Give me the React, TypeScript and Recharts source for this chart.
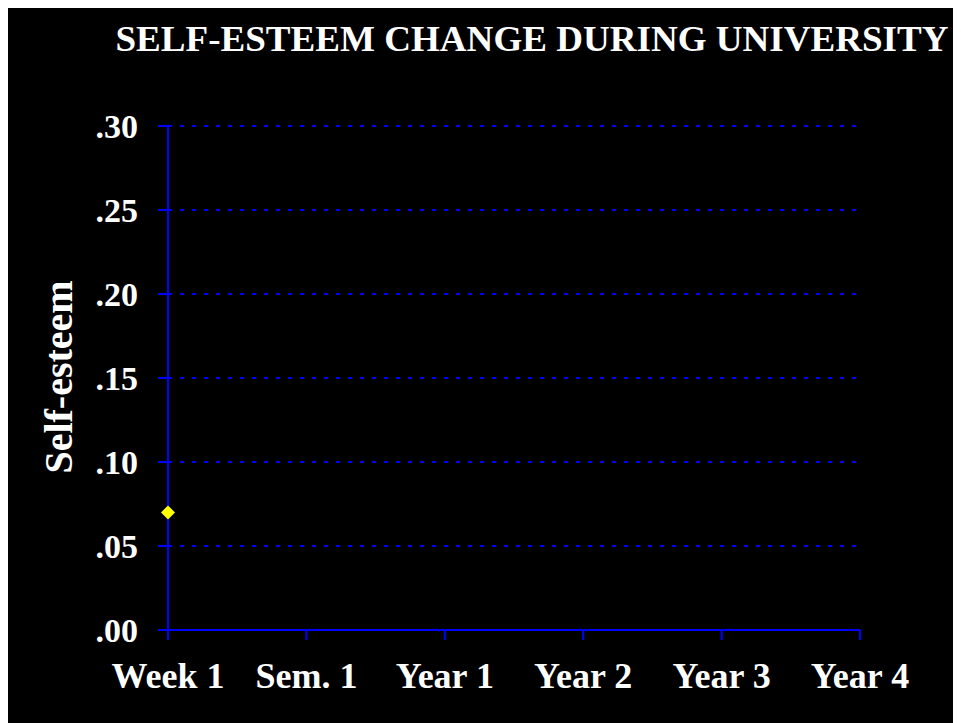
import React from 'react';
import { LineChart, Line, XAxis, YAxis, CartesianGrid } from 'recharts';

const categories = ['Week 1', 'Sem. 1', 'Year 1', 'Year 2', 'Year 3', 'Year 4'];
const selfEsteem: (number | null)[] = [0.07, null, null, null, null, null];
const yTicks = [0, 0.05, 0.1, 0.15, 0.2, 0.25, 0.3];

const data = categories.map((c, i) => ({ period: c, value: selfEsteem[i] }));

const FONT = '"Liberation Serif", "Times New Roman", serif';
const BLUE = '#0000ff';

const Diamond = (props: any) => {
  const { cx, cy, value, index } = props;
  if (value == null || cx == null || cy == null) return <g key={`d-${index}`} />;
  const r = 7;
  return (
    <polygon
      key={`d-${index}`}
      points={`${cx},${cy - r} ${cx + r},${cy} ${cx},${cy + r} ${cx - r},${cy}`}
      fill="#ffff00"
      stroke="none"
    />
  );
};

export default function App() {
  return (
    <div style={{ position: 'relative', width: 953, height: 715, background: '#000' }}>
      <LineChart width={953} height={715} data={data} margin={{ top: 118, right: 101, left: 30, bottom: 33 }}>
        <CartesianGrid vertical={false} stroke={BLUE} strokeWidth={2} strokeDasharray="4 8" />
        <XAxis
          dataKey="period"
          height={60}
          stroke={BLUE}
          strokeWidth={2}
          tickSize={10}
          tickMargin={22}
          tickLine={{ stroke: BLUE, strokeWidth: 2 }}
          axisLine={{ stroke: BLUE, strokeWidth: 2 }}
          tick={{ fill: '#fff', fontSize: 36, fontWeight: 'bold', fontFamily: FONT }}
          interval={0}
        />
        <YAxis
          width={130}
          domain={[0, 0.3]}
          ticks={yTicks}
          stroke={BLUE}
          tickSize={10}
          tickMargin={20}
          tickLine={{ stroke: BLUE, strokeWidth: 2 }}
          axisLine={{ stroke: BLUE, strokeWidth: 2 }}
          tick={{ fill: '#fff', fontSize: 34, fontWeight: 'bold', fontFamily: FONT }}
          tickFormatter={(v: number) => v.toFixed(2).replace(/^0/, '')}
        />
        <Line
          dataKey="value"
          stroke="none"
          dot={Diamond}
          activeDot={false}
          isAnimationActive={false}
          connectNulls={false}
        />
      </LineChart>
      <svg width={953} height={715} style={{ position: 'absolute', left: 0, top: 0, pointerEvents: 'none' }}>
        <text
          x={524}
          y={43}
          textAnchor="middle"
          fill="#fff"
          fontSize={35}
          fontWeight="bold"
          fontFamily={FONT}
          textLength={833}
          lengthAdjust="spacingAndGlyphs"
        >
          SELF-ESTEEM CHANGE DURING UNIVERSITY
        </text>
        <text
          x={64}
          y={369}
          transform="rotate(-90 64 369)"
          textAnchor="middle"
          fill="#fff"
          fontSize={40}
          fontWeight="bold"
          fontFamily={FONT}
        >
          Self-esteem
        </text>
      </svg>
    </div>
  );
}
